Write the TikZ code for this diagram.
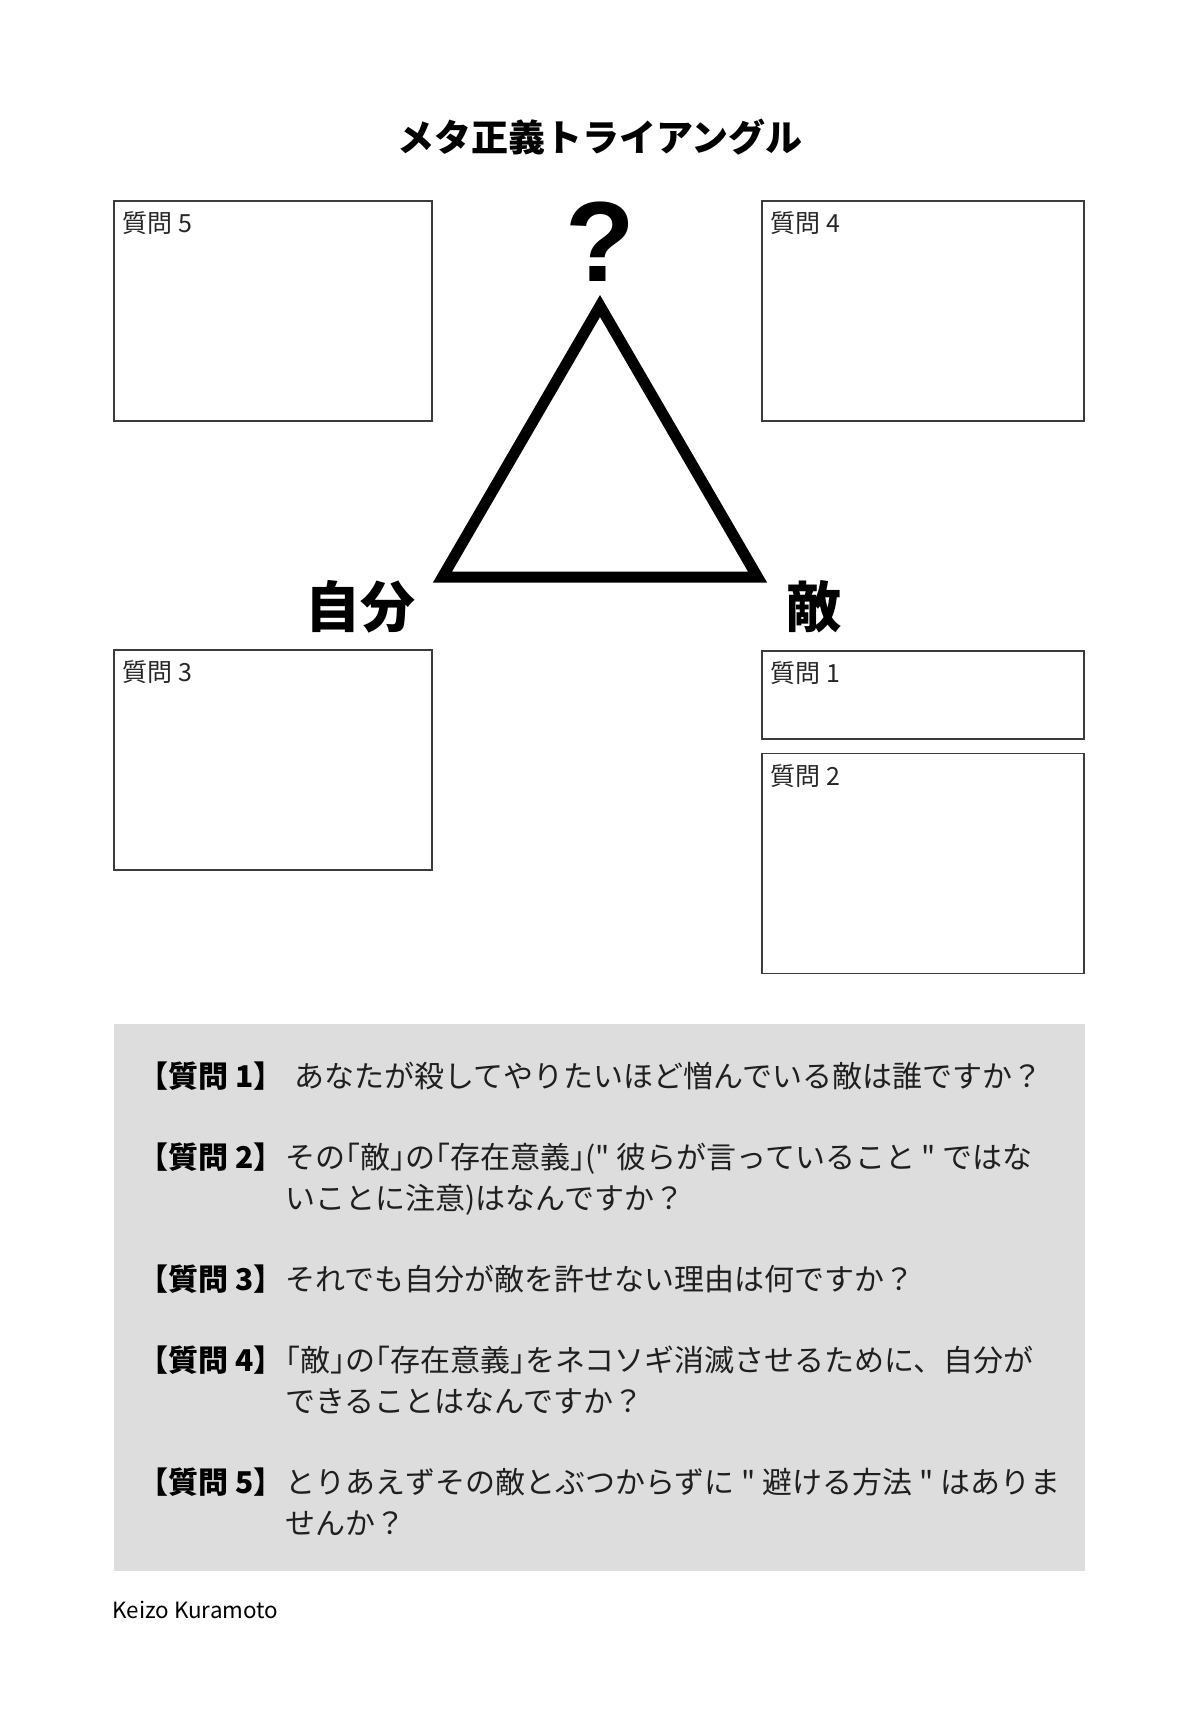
\documentclass[tikz,border=0pt]{standalone}
\usepackage{fontspec}
\setmainfont{Noto Sans CJK JP}
\newfontfamily\jptext{Noto Sans CJK JP}
\newfontfamily\qmarkfont{Liberation Sans}
\usetikzlibrary{positioning}
\definecolor{panelgray}{RGB}{221,221,221}
\definecolor{boxline}{RGB}{60,60,60}
\newcommand{\hw}[1]{{\addfontfeature{RawFeature=+halt}#1}}

\begin{document}
\begin{tikzpicture}[x=0.5pt, y=-0.5pt,
    box/.style={rectangle, draw=boxline, line width=0.75pt, minimum width=159pt, minimum height=110pt, inner sep=0pt},
    boxlabel/.style={inner sep=0pt, text=black!85, font=\fontsize{12.5pt}{15pt}\selectfont},
    corner/.style={inner sep=0pt, font=\bfseries\fontsize{27.5pt}{30pt}\selectfont},
    qlabel/.style={inner sep=0pt, anchor=base west, font=\bfseries\fontsize{15pt}{20.3pt}\selectfont},
    qtext/.style={inner sep=0pt, anchor=base west, align=left, text=black!88, font=\jptext\fontsize{15pt}{20.3pt}\selectfont}]

    \useasboundingbox (0,0) rectangle (1200,1712);

    \node (title) [inner sep=0pt, font=\bfseries\fontsize{18.5pt}{22pt}\selectfont] at (600,137) {メタ正義トライアングル};

    \node (q5) [box] at (273,311) {};
    \node (q4) [box, minimum width=161pt] at (923,311) {};
    \node (q3) [box] at (273,760) {};
    \node (q1) [box, minimum width=161pt, minimum height=44pt] at (923,695) {};
    \node (q2) [box, minimum width=161pt, below=6.5pt of q1] {};

    \node (l5) [boxlabel, below right=5.5pt and 4.5pt of q5.north west] {質問 5};
    \node (l4) [boxlabel, below right=5.5pt and 4.5pt of q4.north west] {質問 4};
    \node (l3) [boxlabel, below right=5.5pt and 4.5pt of q3.north west] {質問 3};
    \node (l1) [boxlabel, below right=5.5pt and 4.5pt of q1.north west] {質問 1};
    \node (l2) [boxlabel, below right=5.5pt and 4.5pt of q2.north west] {質問 2};

    \coordinate (apex) at (600,306);
    \coordinate (self) at (442.5,577);
    \coordinate (enemy) at (757.5,577);
    \draw [line width=5.5pt] (apex) -- (self) -- (enemy) -- cycle;

    \node (qmark) [inner sep=0pt, above=12pt of apex, font=\qmarkfont\bfseries\fontsize{57pt}{60pt}\selectfont] {?};
    \node (jibun) [corner, below left=1.5pt and 13.5pt of self] {自分};
    \node (teki) [corner, below right=1.5pt and 14.5pt of enemy] {敵};

    \node (panel) [rectangle, fill=panelgray, minimum width=485.5pt, minimum height=273.5pt] at (599.5,1297.5) {};

    % multi-line texts sit on the baseline of their last line
    \node (h1) [qlabel] at (138,1087.4) {【質問 1】};
    \node (t1) [qtext] at (294,1087.4) {あなたが殺してやりたいほど憎んでいる敵は誰ですか？};
    \node (h2) [qlabel] at (138,1168.6) {【質問 2】};
    \node (t2) [qtext] at (285,1209.2) {その\hw{「}敵\hw{」}の\hw{「}存在意義\hw{」}(" 彼らが言っていること " ではな\\いことに注意)はなんですか？};
    \node (h3) [qlabel] at (138,1290.4) {【質問 3】};
    \node (t3) [qtext] at (285,1290.4) {それでも自分が敵を許せない理由は何ですか？};
    \node (h4) [qlabel] at (138,1371.6) {【質問 4】};
    \node (t4) [qtext] at (285,1412.2) {\hw{「}敵\hw{」}の\hw{「}存在意義\hw{」}をネコソギ消滅させるために、自分が\\できることはなんですか？};
    \node (h5) [qlabel] at (138,1493.4) {【質問 5】};
    \node (t5) [qtext] at (285,1534) {とりあえずその敵とぶつからずに " 避ける方法 " はありま\\せんか？};

    \node (author) [inner sep=0pt, anchor=base west, font=\fontsize{11.2pt}{13pt}\selectfont] at (112,1618) {Keizo Kuramoto};

\end{tikzpicture}
\end{document}
